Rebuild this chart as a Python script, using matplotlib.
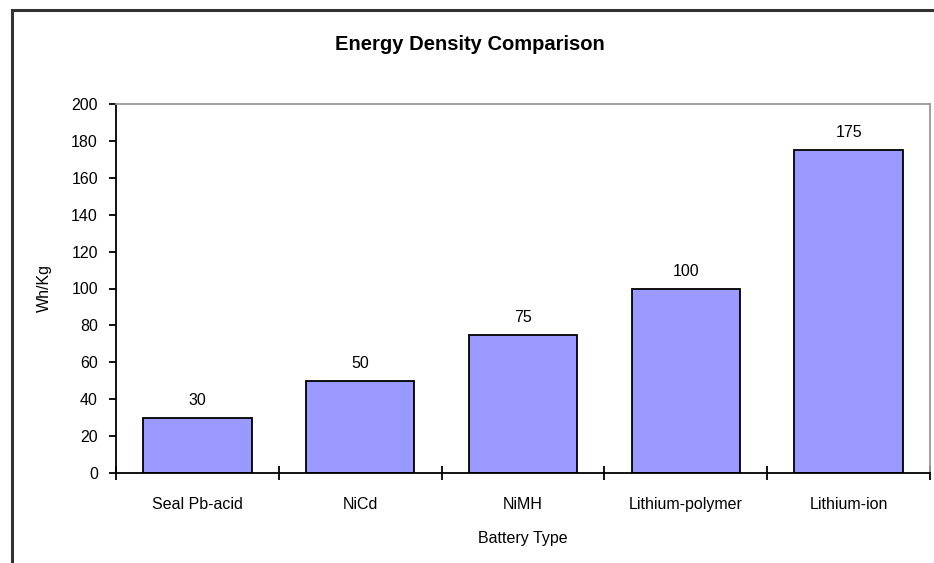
import matplotlib
matplotlib.use("Agg")
import matplotlib.pyplot as plt
from matplotlib.patches import Rectangle

batteries = ["Seal Pb-acid", "NiCd", "NiMH", "Lithium-polymer", "Lithium-ion"]
energy = [30, 50, 75, 100, 175]
y_ticks = list(range(0, 201, 20))

plt.rcParams["font.family"] = ["Liberation Sans", "DejaVu Sans"]
fs = 11.5

fig = plt.figure(figsize=(9.34, 5.63), dpi=100)
ax = fig.add_axes([116 / 934, 1 - 473 / 563, (930 - 116) / 934, (473 - 104) / 563])

# cadre extérieur du graphique (coupé à droite et en bas)
fig.patches.append(Rectangle((12 / 934, -0.1), 1.2, 1 - 10 / 563 + 0.1,
                             transform=fig.transFigure, fill=False,
                             edgecolor="#333333", linewidth=2.2))

x = range(len(batteries))
bars = ax.bar(x, energy, width=0.667, color="#9999FF", edgecolor="black", linewidth=1.3)

for b, v in zip(bars, energy):
    ax.annotate(str(v), (b.get_x() + b.get_width() / 2, v), xytext=(0, 7),
                textcoords="offset points", ha="center", va="bottom", fontsize=fs)

ax.set_xlim(-0.5, len(batteries) - 0.5)
ax.set_ylim(0, 200)
ax.set_yticks(y_ticks)
ax.set_xticks(list(x))
ax.set_xticklabels(batteries, fontsize=fs)
ax.tick_params(axis="x", length=0, pad=17)
ax.set_xticks([i - 0.5 for i in range(len(batteries) + 1)], minor=True)
ax.tick_params(axis="x", which="minor", direction="inout", length=10, width=1.3)
ax.tick_params(axis="y", labelsize=fs, length=5, width=1.3, direction="out", pad=8)

ax.spines["left"].set_linewidth(1.3)
ax.spines["bottom"].set_linewidth(1.3)
ax.spines["top"].set_color("#999999")
ax.spines["right"].set_color("#999999")
ax.spines["top"].set_linewidth(1.3)
ax.spines["right"].set_linewidth(1.3)

fig.text(470 / 934, 1 - 44 / 563, "Energy Density Comparison", fontsize=14.5,
         fontweight="bold", ha="center", va="center")
ax.set_xlabel("Battery Type", fontsize=fs, labelpad=14)
ax.set_ylabel("Wh/Kg", fontsize=fs, labelpad=14)

fig.savefig("out.png", dpi=100)
